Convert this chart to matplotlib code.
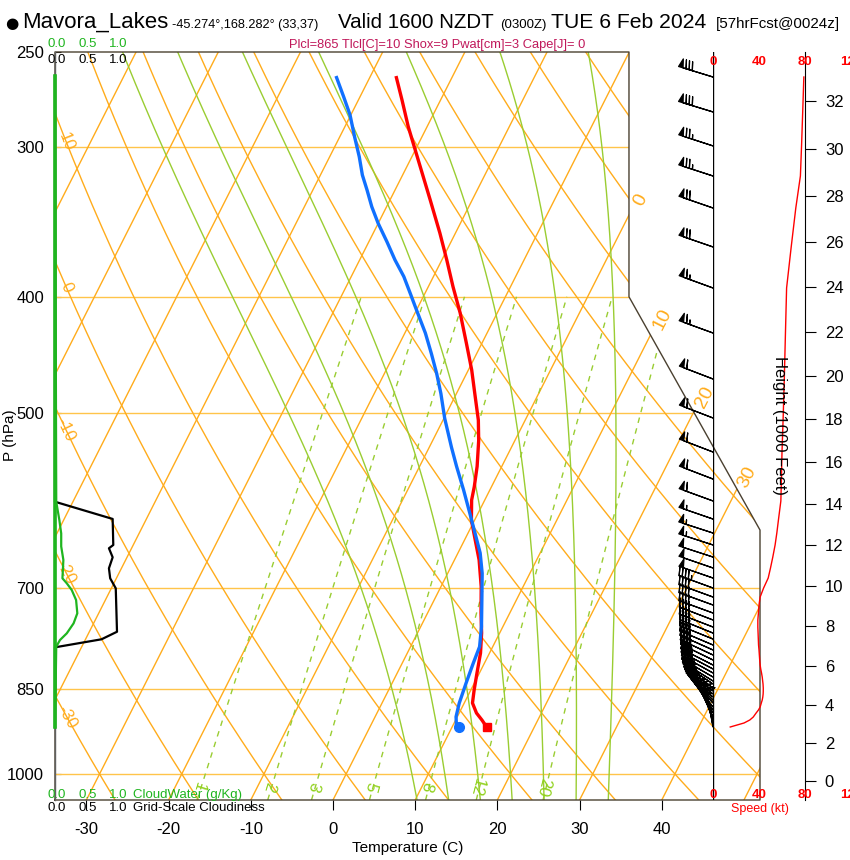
import numpy as np
import matplotlib
matplotlib.use('Agg')
import matplotlib.pyplot as plt
from matplotlib.patches import Polygon
from matplotlib.ticker import NullLocator

plt.rcParams['font.family'] = ['Liberation Sans', 'DejaVu Sans']
plt.rcParams['axes.unicode_minus'] = False

# ---- sounding (hPa, degC), surface first
t_pres = [913.7, 901.6, 889.5, 872.6, 851.0, 823.7, 792.7, 762.8, 734.1, 697.9, 663.0, 638.1,
          614.0, 590.9, 575.9, 554.0, 527.2, 506.9, 481.3, 460.3, 437.2, 412.7, 392.3, 372.7,
          353.9, 332.2, 301.8, 288.5, 274.1, 261.8]
t_temp = [14.2, 13.2, 12.1, 11.0, 10.4, 9.7, 8.9, 7.8, 6.5, 4.9, 3.0, 1.3,
          -0.4, -1.6, -2.1, -3.0, -4.4, -5.7, -7.8, -9.6, -11.9, -14.5, -17.0, -19.4,
          -21.9, -25.1, -30.0, -32.3, -34.7, -36.9]
td_pres = [913.7, 910.3, 896.0, 873.0, 840.2, 808.9, 783.2, 753.7, 716.0, 680.3, 654.2, 629.7,
           606.2, 579.6, 554.0, 534.0, 505.2, 481.6, 463.4, 446.2, 428.9, 410.3, 397.3, 384.8,
           372.7, 359.9, 347.4, 336.5, 325.9, 316.6, 305.7, 294.2, 282.1, 272.4, 261.8]
td_temp = [10.8, 10.4, 9.85, 9.4, 9.0, 8.65, 8.4, 7.4, 5.8, 4.2, 2.7, 0.85,
           -1.0, -3.2, -5.5, -7.3, -9.9, -11.9, -13.65, -15.5, -17.5, -20.0, -21.8, -23.6,
           -25.7, -27.8, -30.0, -31.8, -33.4, -34.9, -36.4, -38.2, -40.1, -42.0, -44.2]

# ---- cloud panel
cloud_pres = [261.8, 592.9, 612.8, 644.2, 648.3, 659.6, 673.7, 686.8, 700.1, 761.0, 772.1, 784.1, 913.7]
cloud_frac = [0.0, 0.0, 0.93, 0.94, 0.87, 0.93, 0.87, 0.89, 0.98, 1.0, 0.75, 0.0, 0.0]
qc_pres = [261.8, 592.9, 614.0, 630.0, 646.0, 663.0, 686.8, 693.4, 702.4, 716.0, 734.5, 748.8,
           763.3, 773.2, 783.2, 913.7]
qc_vals = [0.0, 0.02, 0.07, 0.1, 0.1, 0.135, 0.12, 0.19, 0.27, 0.34, 0.36, 0.3,
           0.19, 0.08, 0.02, 0.0]

# ---- winds (hPa, deg, kt)
wind_pres = [262.3, 280.5, 299.4, 317.2, 337.3, 363.5, 393.3, 428.8, 468.4, 504.8, 538.9, 567.6,
             592.0, 612.9, 629.6, 644.2, 659.3, 673.3, 686.4, 699.7, 711.9, 722.9, 734.1, 744.0,
             754.1, 762.9, 771.7, 780.6, 788.1, 795.7, 803.4, 811.2, 817.4, 823.7, 830.1, 836.5,
             841.3, 847.8, 852.7, 857.6, 862.6, 867.6, 872.6, 879.3, 884.4, 889.5, 896.4, 901.5,
             906.7, 913.7]
wind_dir = [287, 287, 288, 288, 289, 289, 290, 290, 291, 291, 291, 291,
            290, 289, 288, 288, 288, 289, 289, 290, 290, 290, 290, 291,
            291, 292, 292, 293, 294, 295, 296, 297, 298, 299, 300, 302,
            304, 306, 308, 310, 312, 315, 318, 322, 326, 330, 335, 340,
            345, 350]
wind_spd = [79, 78, 77, 76, 72, 68, 64, 63, 62, 61, 60, 59.5,
            59, 57, 55.5, 54, 52, 50, 48, 44, 41, 40, 39.5, 39,
            39, 39.2, 39.4, 39.6, 40, 40.3, 40.6, 41, 41.5, 42.2, 42.8, 43.2,
            43.5, 43.7, 43.7, 43.6, 43.3, 42.8, 42, 41, 39.5, 37.5, 35, 32,
            27, 15]

# ---- background lines
isotherms = list(range(-80, 60, 10))
dry_adiabats = list(range(-30, 130, 10))
moist_adiabats = [8, 12, 16, 20, 24, 28, 32]
mix_ratios = [1, 2, 3, 5, 8, 12, 20]
mix_labels = ['1', '2', '3', '5', '8', '12', '20']
isobars = [300, 400, 500, 700, 850, 1000]
p_ticks = [250, 300, 400, 500, 700, 850, 1000]
t_ticks = [-30, -20, -10, 0, 10, 20, 30, 40]
dry_labels = [10, 0, -10, -20, -30]
iso_labels = [0, 10, 20, 30]
iso_label_p = [332, 418, 485, 566]
height_kft = list(range(0, 34, 2))
speed_ticks = [0, 40, 80, 120]

# ---- diagram geometry
P_BOT, P_TOP = 1051.2, 250.0
SKEW = 32.06
X_LEFT, X_CUT, X_RIGHT = -33.82, 36.01, 51.95
P_CUT, P_DIAG = 400.0, 626.0
ORANGE = '#ffac1c'
ISOBAR = '#ffc44a'
YGREEN = '#9acd32'
GREEN = '#1fb51f'


def skew(t, p):
    return np.asarray(t, float) + SKEW * np.log(P_BOT / np.asarray(p, float))


def sat_vp(tc):
    return 6.112 * np.exp(17.67 * tc / (tc + 243.5))


def moist_curve(t1000, p_end, step):
    Rd, cp, Lv, eps = 287.04, 1005.7, 2.501e6, 0.622

    def dtdp(T, p):
        es = sat_vp(T - 273.15)
        rs = eps * es / (p - es)
        return (Rd * T + Lv * rs) / (p * (cp + Lv * Lv * rs * eps / (Rd * T * T)))

    ps = np.arange(1000.0, p_end, step)
    T = t1000 + 273.15
    out = []
    for p in ps:
        out.append(T)
        k1 = dtdp(T, p)
        k2 = dtdp(T + k1 * step, p + step)
        T = T + 0.5 * (k1 + k2) * step
    return ps, np.array(out) - 273.15


def dewpoint_of_mix(w, p):
    e = w * np.asarray(p, float) / (622.0 + w)
    a = np.log(e / 6.112)
    return 243.5 * a / (17.67 - a)


fig = plt.figure(figsize=(8.5, 8.6), dpi=100)


def fx(px):
    return px / 850.0


def fy(py):
    return 1 - py / 860.0


ax = fig.add_axes([fx(55), fy(800), (760 - 55) / 850, (800 - 52) / 860])
ax.set_yscale('log')
ax.set_xlim(X_LEFT, X_RIGHT)
ax.set_ylim(P_BOT, P_TOP)
for s in ax.spines.values():
    s.set_visible(False)


def screen_angle(x1, p1, x2, p2):
    d1 = ax.transData.transform((x1, p1))
    d2 = ax.transData.transform((x2, p2))
    return np.degrees(np.arctan2(d2[1] - d1[1], d2[0] - d1[0]))


frame_x = [X_LEFT, X_LEFT, X_CUT, X_CUT, X_RIGHT, X_RIGHT]
frame_p = [P_BOT, P_TOP, P_TOP, P_CUT, P_DIAG, P_BOT]
clip = Polygon(np.column_stack([frame_x, frame_p]), closed=True, transform=ax.transData)

pp = np.geomspace(P_BOT, P_TOP, 300)

for p in isobars:
    ln, = ax.plot([X_LEFT, X_RIGHT], [p, p], color=ISOBAR, lw=1)
    ln.set_clip_path(clip)

for t in isotherms:
    ln, = ax.plot(skew([t, t], [P_BOT, P_TOP]), [P_BOT, P_TOP], color=ORANGE, lw=1)
    ln.set_clip_path(clip)

for th in dry_adiabats:
    tt = (th + 273.15) * (pp / 1000.0) ** 0.2857 - 273.15
    ln, = ax.plot(skew(tt, pp), pp, color=ORANGE, lw=1)
    ln.set_clip_path(clip)

for tw in moist_adiabats:
    pu, tu = moist_curve(tw, P_TOP - 1, -1.0)
    pd, td = moist_curve(tw, P_BOT + 1, 1.0)
    mp = np.concatenate([pd[::-1], pu])
    mt = np.concatenate([td[::-1], tu])
    ln, = ax.plot(skew(mt, mp), mp, color=YGREEN, lw=1)
    ln.set_clip_path(clip)

pw = np.geomspace(P_BOT, 400, 100)
for w, lab in zip(mix_ratios, mix_labels):
    ln, = ax.plot(skew(dewpoint_of_mix(w, pw), pw), pw, color=YGREEN, lw=1, ls=(0, (4, 4)))
    ln.set_clip_path(clip)
    pl, p2 = 1025.0, 990.0
    tl, t2 = dewpoint_of_mix(w, pl), dewpoint_of_mix(w, p2)
    ang = screen_angle(skew(tl, pl), pl, skew(t2, p2), p2)
    ax.text(skew(tl, pl) - 0.3, pl, lab, color='#8fd11a', fontsize=12,
            rotation=ang - 180, ha='center', va='center', rotation_mode='anchor')

# dry adiabat labels at the left edge
for th in dry_labels:
    tt = (th + 273.15) * (pp / 1000.0) ** 0.2857 - 273.15
    xx = skew(tt, pp)
    i = np.argmin(np.abs(xx - (X_LEFT + 1.4)))
    ang = screen_angle(xx[i - 3], pp[i - 3], xx[i + 3], pp[i + 3])
    ax.text(xx[i], pp[i], str(th), color=ORANGE, fontsize=12,
            rotation=ang + 180, ha='center', va='center', rotation_mode='anchor')

# isotherm labels beyond the frame
for t, p in zip(iso_labels, iso_label_p):
    ang = screen_angle(skew(t, P_BOT), P_BOT, skew(t, P_TOP), P_TOP)
    ax.text(skew(t, p) + 0.5, p, str(t), color=ORANGE, fontsize=14,
            rotation=ang, ha='center', va='center', rotation_mode='anchor', clip_on=False)

# frame
ax.plot(frame_x + [X_LEFT], frame_p + [P_BOT], color='#4a4030', lw=1, clip_on=False)
ax.plot([X_LEFT, X_LEFT], [P_BOT, P_TOP], color='#606060', lw=1, clip_on=False)

# sounding
ax.plot(skew(t_temp, t_pres), t_pres, color='#ff0000', lw=2.4, solid_capstyle='butt')
ax.plot(skew(td_temp, td_pres), td_pres, color='#1070ff', lw=2.4, solid_capstyle='butt')
ax.plot(skew(t_temp[0], t_pres[0]), t_pres[0], 's', color='#ff0000', ms=6)
ax.plot(skew(td_temp[0], td_pres[0]), td_pres[0], 'o', color='#1070ff', ms=7)

ax.set_xticks(skew(t_ticks, P_BOT))
ax.set_xticklabels([str(t) for t in t_ticks])
ax.set_yticks(p_ticks)
ax.set_yticklabels([str(p) for p in p_ticks])
ax.yaxis.set_minor_locator(NullLocator())
ax.tick_params(axis='x', direction='out', length=7, labelsize=12, pad=9)
ax.tick_params(axis='y', direction='in', length=4, labelsize=12, pad=8)
ax.set_xlabel('Temperature (C)', fontsize=11, labelpad=3)
ax.patch.set_alpha(0)
fig.text(fx(10), fy(435), 'P (hPa)', fontsize=11, rotation=90, ha='center', va='center')

# ---- cloud panel
axc = fig.add_axes([fx(55), fy(800), 62 / 850, (800 - 52) / 860])
axc.set_yscale('log')
axc.set_xlim(0, 1)
axc.set_ylim(P_BOT, P_TOP)
axc.axis('off')
axc.plot(cloud_frac, cloud_pres, color='black', lw=1.6, clip_on=False)
axc.plot(qc_vals, qc_pres, color=GREEN, lw=1.6, clip_on=False)
axc.plot([0, 0], [cloud_pres[0], cloud_pres[-1]], color=GREEN, lw=2.6, clip_on=False)

# ---- wind panel
axw = fig.add_axes([fx(713), fy(800), (850 - 713) / 850, (800 - 52) / 860])
axw.set_yscale('log')
axw.set_xlim(0, (850 - 713) / 1.15)
axw.set_ylim(P_BOT, P_TOP)
axw.axis('off')
axw.axvline(0, color='black', lw=1)
wd = np.radians(wind_dir)
ws = np.array(wind_spd)
u = -ws * np.sin(wd)
v = -ws * np.cos(wd)
axw.barbs(np.zeros(len(wind_pres)), wind_pres, u, v, length=7.2, lw=0.9, color='black',
          sizes=dict(spacing=0.09, height=0.24, width=0.13), clip_on=False)
axw.plot(wind_spd, wind_pres, color='red', lw=1)

# ---- height axis
axh = fig.add_axes([fx(805), fy(800), 0.0005, (800 - 52) / 860])
axh.set_yscale('log')
axh.set_ylim(P_BOT, P_TOP)
axh.set_xlim(0, 1)
for k, s in axh.spines.items():
    s.set_visible(k == 'right')
axh.spines['right'].set_color('black')
axh.xaxis.set_visible(False)
axh.yaxis.tick_right()
zm = np.array(height_kft) * 304.8
hp = 1013.25 * (1 - 0.0065 * zm / 288.15) ** 5.25588
axh.set_yticks(hp)
axh.set_yticklabels([str(h) for h in height_kft])
axh.yaxis.set_minor_locator(NullLocator())
axh.tick_params(axis='y', direction='out', length=8, labelsize=12, pad=6)
axh.patch.set_alpha(0)

# ---- text
fig.text(fx(12), fy(28), '\u25cf', fontsize=11, ha='center', va='baseline', family=['DejaVu Sans'])
fig.text(fx(22), fy(28), 'Mavora_Lakes', fontsize=16, ha='left', va='baseline')
fig.text(fx(172), fy(28), '-45.274\u00b0,168.282\u00b0 (33,37)', fontsize=9.2, ha='left', va='baseline')
fig.text(fx(338), fy(28), 'Valid 1600 NZDT', fontsize=14.8, ha='left', va='baseline')
fig.text(fx(500), fy(28), '(0300Z)', fontsize=9.5, ha='left', va='baseline')
fig.text(fx(551), fy(28), 'TUE 6 Feb 2024', fontsize=15.2, ha='left', va='baseline')
fig.text(fx(716), fy(28), '[57hrFcst@0024z]', fontsize=10.9, ha='left', va='baseline')
fig.text(fx(437), fy(48), 'Plcl=865 Tlcl[C]=10 Shox=9 Pwat[cm]=3 Cape[J]= 0', fontsize=9.3,
         color='#c0185a', ha='center', va='baseline')

for lab, x in zip(['0.0', '0.5', '1.0'], [57, 88, 118]):
    fig.text(fx(x), fy(44), lab, fontsize=9.5, color=GREEN, ha='center', va='center')
    fig.text(fx(x), fy(60), lab, fontsize=9.5, color='black', ha='center', va='center')
    fig.text(fx(x), fy(795), lab, fontsize=9.5, color=GREEN, ha='center', va='center')
    fig.text(fx(x), fy(808), lab, fontsize=9.5, color='black', ha='center', va='center')
fig.text(fx(133), fy(795), 'CloudWater (g/Kg)', fontsize=9.5, color=GREEN, ha='left', va='center')
fig.text(fx(133), fy(808), 'Grid-Scale Cloudiness', fontsize=9.5, color='black', ha='left', va='center')

for s in speed_ticks:
    x = 713 + 1.15 * s
    fig.text(fx(x), fy(62), str(s), fontsize=9.5, color='red', weight='bold', ha='center', va='center')
    fig.text(fx(x), fy(795), str(s), fontsize=9.5, color='red', weight='bold', ha='center', va='center')
fig.text(fx(760), fy(809), 'Speed (kt)', fontsize=9, color='red', ha='center', va='center')
fig.text(fx(780), fy(425), 'Height (1000 Feet)', fontsize=12, rotation=-90, ha='center', va='center')

fig.savefig('out.png', dpi=100)
